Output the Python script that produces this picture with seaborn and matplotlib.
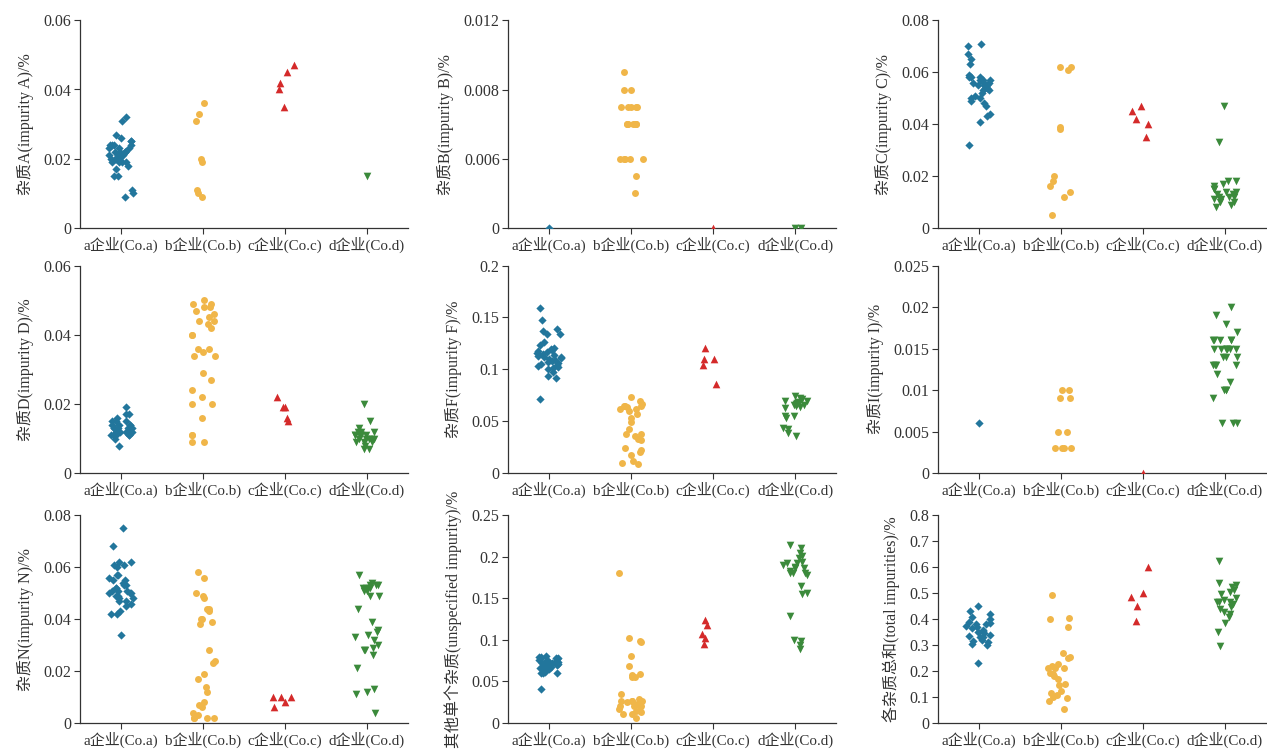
import matplotlib
matplotlib.use("Agg")
import matplotlib.pyplot as plt
import seaborn as sns
import pandas as pd
import numpy as np
from matplotlib.ticker import FuncFormatter

np.random.seed(3)

companies = ["a企业(Co.a)", "b企业(Co.b)", "c企业(Co.c)", "d企业(Co.d)"]
colors = ["#22769c", "#f0b649", "#d42a2a", "#3b8a3b"]
markers = ["D", "o", "^", "v"]
msizes = [4.2, 5, 5.5, 5.5]

# impurity A
A_a = [0.031, 0.032, 0.027, 0.026, 0.025, 0.025, 0.024, 0.024, 0.024, 0.023, 0.023, 0.022,
       0.022, 0.022, 0.022, 0.021, 0.021, 0.021, 0.020, 0.020, 0.020, 0.019, 0.019, 0.019,
       0.019, 0.018, 0.017, 0.015, 0.015, 0.011, 0.010, 0.009, 0.024, 0.023, 0.021, 0.020, 0.022]
A_b = [0.036, 0.033, 0.031, 0.020, 0.019, 0.011, 0.010, 0.009]
A_c = [0.047, 0.045, 0.042, 0.040, 0.035]
A_d = [0.015]

# impurity B
B_a = [0.0]
B_b = [0.009, 0.008, 0.008, 0.007, 0.007, 0.007, 0.007, 0.007, 0.006, 0.006, 0.006, 0.006,
       0.006, 0.006, 0.006, 0.004, 0.004, 0.004, 0.004, 0.004, 0.003, 0.002]
B_c = [0.0]
B_d = [0.0, 0.0]

# impurity C
C_a = [0.071, 0.070, 0.067, 0.065, 0.063, 0.059, 0.058, 0.058, 0.058, 0.057, 0.057, 0.057,
       0.056, 0.056, 0.056, 0.055, 0.055, 0.055, 0.054, 0.054, 0.053, 0.053, 0.052, 0.051,
       0.050, 0.050, 0.049, 0.048, 0.047, 0.044, 0.043, 0.041, 0.032]
C_b = [0.062, 0.062, 0.061, 0.039, 0.038, 0.020, 0.018, 0.016, 0.014, 0.012, 0.005]
C_c = [0.047, 0.045, 0.042, 0.040, 0.035]
C_d = [0.047, 0.033, 0.018, 0.018, 0.017, 0.016, 0.015, 0.015, 0.014, 0.014, 0.013, 0.013,
       0.012, 0.012, 0.012, 0.011, 0.011, 0.010, 0.010, 0.009, 0.008]

# impurity D
D_a = [0.019, 0.017, 0.017, 0.016, 0.015, 0.015, 0.015, 0.014, 0.014, 0.014, 0.014, 0.013,
       0.013, 0.013, 0.013, 0.013, 0.013, 0.012, 0.012, 0.012, 0.012, 0.012, 0.012, 0.011,
       0.011, 0.011, 0.011, 0.011, 0.010, 0.008]
D_b = [0.050, 0.049, 0.049, 0.048, 0.048, 0.047, 0.046, 0.045, 0.044, 0.044, 0.043, 0.042,
       0.040, 0.040, 0.036, 0.036, 0.035, 0.034, 0.034, 0.029, 0.027, 0.024, 0.022, 0.020,
       0.020, 0.016, 0.011, 0.011, 0.009, 0.009]
D_c = [0.022, 0.019, 0.019, 0.016, 0.015]
D_d = [0.020, 0.015, 0.013, 0.012, 0.012, 0.012, 0.011, 0.011, 0.011, 0.011, 0.011, 0.010,
       0.010, 0.010, 0.010, 0.010, 0.009, 0.009, 0.009, 0.008, 0.007, 0.007]

# impurity F
F_a = [0.159, 0.148, 0.139, 0.137, 0.134, 0.134, 0.126, 0.123, 0.121, 0.120, 0.119, 0.118,
       0.117, 0.116, 0.115, 0.114, 0.113, 0.112, 0.112, 0.111, 0.110, 0.109, 0.108, 0.107,
       0.106, 0.105, 0.104, 0.103, 0.102, 0.101, 0.100, 0.097, 0.094, 0.092, 0.071]
F_b = [0.073, 0.070, 0.067, 0.065, 0.065, 0.065, 0.064, 0.062, 0.062, 0.060, 0.057, 0.053,
       0.049, 0.043, 0.038, 0.038, 0.036, 0.033, 0.032, 0.024, 0.022, 0.020, 0.018, 0.012,
       0.010, 0.009]
F_c = [0.121, 0.110, 0.110, 0.104, 0.086]
F_d = [0.074, 0.072, 0.071, 0.070, 0.070, 0.069, 0.068, 0.068, 0.067, 0.067, 0.066, 0.066,
       0.065, 0.064, 0.063, 0.055, 0.055, 0.053, 0.044, 0.043, 0.039, 0.036]

# impurity I
I_a = [0.006]
I_b = [0.010, 0.010, 0.009, 0.009, 0.005, 0.005, 0.003, 0.003, 0.003, 0.003]
I_c = [0.0]
I_d = [0.020, 0.019, 0.018, 0.017, 0.016, 0.016, 0.016, 0.016, 0.016, 0.015, 0.015, 0.015,
       0.015, 0.015, 0.015, 0.015, 0.014, 0.014, 0.014, 0.013, 0.013, 0.013, 0.013, 0.012,
       0.011, 0.010, 0.010, 0.010, 0.009, 0.006, 0.006, 0.006]

# impurity N
N_a = [0.075, 0.068, 0.062, 0.062, 0.061, 0.061, 0.060, 0.057, 0.057, 0.056, 0.055, 0.055,
       0.054, 0.053, 0.053, 0.052, 0.052, 0.051, 0.051, 0.051, 0.050, 0.050, 0.050, 0.049,
       0.049, 0.048, 0.048, 0.047, 0.047, 0.046, 0.045, 0.043, 0.042, 0.042, 0.034]
N_b = [0.058, 0.056, 0.050, 0.049, 0.048, 0.044, 0.044, 0.043, 0.040, 0.040, 0.039, 0.038,
       0.028, 0.024, 0.023, 0.019, 0.017, 0.014, 0.012, 0.008, 0.007, 0.006, 0.004, 0.003,
       0.002, 0.002, 0.002, 0.002]
N_c = [0.010, 0.010, 0.010, 0.008, 0.006]
N_d = [0.057, 0.054, 0.053, 0.053, 0.053, 0.052, 0.052, 0.052, 0.051, 0.051, 0.049, 0.049,
       0.044, 0.039, 0.036, 0.035, 0.034, 0.033, 0.032, 0.030, 0.029, 0.028, 0.028, 0.026,
       0.021, 0.013, 0.012, 0.011, 0.004]

# unspecified impurity
U_a = [0.081, 0.080, 0.079, 0.078, 0.078, 0.078, 0.077, 0.076, 0.076, 0.075, 0.074, 0.074,
       0.073, 0.072, 0.072, 0.071, 0.070, 0.070, 0.069, 0.068, 0.067, 0.066, 0.065, 0.064,
       0.062, 0.061, 0.060, 0.060, 0.060, 0.041]
U_b = [0.180, 0.102, 0.099, 0.098, 0.081, 0.069, 0.059, 0.058, 0.055, 0.055, 0.035, 0.029,
       0.027, 0.027, 0.027, 0.027, 0.025, 0.023, 0.021, 0.021, 0.021, 0.019, 0.017, 0.015,
       0.013, 0.011, 0.011, 0.006]
U_c = [0.124, 0.118, 0.107, 0.102, 0.095]
U_d = [0.214, 0.210, 0.204, 0.201, 0.198, 0.194, 0.192, 0.192, 0.190, 0.188, 0.186, 0.186,
       0.183, 0.181, 0.181, 0.181, 0.178, 0.165, 0.157, 0.155, 0.129, 0.100, 0.099, 0.094,
       0.089]

# total impurities
T_a = [0.451, 0.43, 0.42, 0.41, 0.40, 0.39, 0.385, 0.38, 0.38, 0.375, 0.37, 0.365, 0.36,
       0.355, 0.35, 0.345, 0.34, 0.335, 0.33, 0.33, 0.32, 0.315, 0.31, 0.305, 0.30, 0.231]
T_b = [0.493, 0.406, 0.400, 0.368, 0.270, 0.254, 0.250, 0.229, 0.218, 0.211, 0.211, 0.211,
       0.193, 0.188, 0.182, 0.169, 0.152, 0.146, 0.124, 0.114, 0.108, 0.102, 0.095, 0.083,
       0.053]
T_c = [0.599, 0.502, 0.486, 0.451, 0.394]
T_d = [0.625, 0.540, 0.531, 0.523, 0.514, 0.505, 0.495, 0.483, 0.472, 0.466, 0.466, 0.466,
       0.457, 0.447, 0.438, 0.429, 0.419, 0.409, 0.385, 0.352, 0.298]

panels = [
    ("杂质A(impurity A)/%", [A_a, A_b, A_c, A_d], [0, 0.02, 0.04, 0.06]),
    ("杂质B(impurity B)/%", [B_a, B_b, B_c, B_d], [0, 0.004, 0.008, 0.012]),
    ("杂质C(impurity C)/%", [C_a, C_b, C_c, C_d], [0, 0.02, 0.04, 0.06, 0.08]),
    ("杂质D(impurity D)/%", [D_a, D_b, D_c, D_d], [0, 0.02, 0.04, 0.06]),
    ("杂质F(impurity F)/%", [F_a, F_b, F_c, F_d], [0, 0.05, 0.1, 0.15, 0.2]),
    ("杂质I(impurity I)/%", [I_a, I_b, I_c, I_d], [0, 0.005, 0.01, 0.015, 0.02, 0.025]),
    ("杂质N(impurity N)/%", [N_a, N_b, N_c, N_d], [0, 0.02, 0.04, 0.06, 0.08]),
    ("其他单个杂质(unspecified impurity)/%", [U_a, U_b, U_c, U_d], [0, 0.05, 0.1, 0.15, 0.2, 0.25]),
    ("各杂质总和(total impurities)/%", [T_a, T_b, T_c, T_d], [0, 0.1, 0.2, 0.3, 0.4, 0.5, 0.6, 0.7, 0.8]),
]
# the B panel in the source labels its middle tick "0.006"
B_ticklabels = ["0", "0.006", "0.008", "0.012"]

sns.set_style("ticks")
plt.rcParams["font.family"] = ["Liberation Serif", "Noto Sans CJK SC"]
plt.rcParams["axes.unicode_minus"] = False

fig = plt.figure(figsize=(12.67, 7.5), dpi=100)
fig.patch.set_facecolor("white")

lefts = [0.063, 0.401, 0.740]
bottoms = [0.696, 0.369, 0.036]
w, h = 0.259, 0.277

for i, (ylab, series, ticks) in enumerate(panels):
    r, c = divmod(i, 3)
    ax = fig.add_axes([lefts[c], bottoms[r], w, h])
    ax.set_facecolor("white")
    for k, vals in enumerate(series):
        sns.stripplot(x=[companies[k]] * len(vals), y=vals, order=companies,
                      color=colors[k], marker=markers[k], size=msizes[k],
                      jitter=0.15, linewidth=0, ax=ax)
    ax.set_ylim(0, ticks[-1])
    ax.set_xlim(-0.5, 3.5)
    ax.set_yticks(ticks)
    if i == 1:
        ax.set_yticklabels(B_ticklabels)
    else:
        ax.yaxis.set_major_formatter(FuncFormatter(lambda v, p: "%g" % v))
    ax.set_ylabel(ylab, fontsize=11.5, color="#333333", labelpad=7)
    ax.set_xlabel("")
    ax.tick_params(axis="y", labelsize=11.5)
    ax.tick_params(axis="x", labelsize=10.8)
    ax.tick_params(axis="both", colors="#333333", length=4, width=0.8,
                   direction="out", pad=2)
    sns.despine(ax=ax)
    for s in ["left", "bottom"]:
        ax.spines[s].set_color("#333333")
        ax.spines[s].set_linewidth(0.9)

fig.savefig("out.png", dpi=100)
